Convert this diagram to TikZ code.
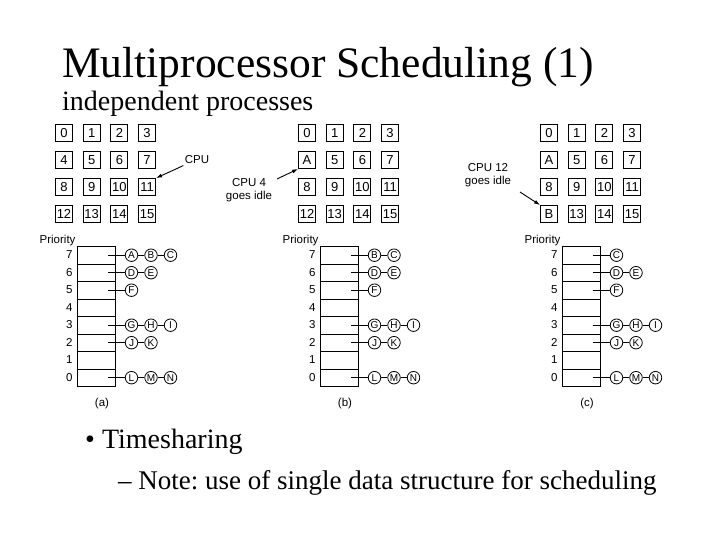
\documentclass[tikz,border=0pt]{standalone}
\usepackage{fontspec}
\setmainfont{Liberation Serif}
\newfontfamily\sff{Liberation Sans}
\usetikzlibrary{arrows.meta}
\frenchspacing
\newcommand\myprocs[3]{% panel, dx, top list
  \foreach \lv/\lst in {7/{#3}, 6/{D,E}, 5/{F}, 3/{G,H,I}, 2/{J,K}, 0/{L,M,N}}{
    \coordinate (#1-s\lv) at ([xshift=-8pt]#1-row\lv.east);
    \foreach \n [count=\j] in \lst{
      \node[proc] (#1-\lv-\j) at (112+#2+19.5*\j,0 |- #1-row\lv.center) {\n};
    }
    \draw[line width=0.9pt] (#1-s\lv) -- (#1-\lv-1);
    \foreach \n [count=\j] in \lst{
      \ifnum\j>1 \pgfmathtruncatemacro{\pj}{\j-1}\draw[line width=0.9pt] (#1-\lv-\pj) -- (#1-\lv-\j);\fi
    }
  }}
\begin{document}
\begin{tikzpicture}[x=1pt,y=-1pt,
  cpu/.style={draw,line width=0.9pt,minimum size=17pt,inner sep=0pt,font=\sff\fontsize{13}{13}\selectfont},
  proc/.style={draw,circle,line width=0.8pt,minimum size=12.5pt,inner sep=0pt,font=\sff\fontsize{10}{10}\selectfont},
  lbl/.style={font=\sff\fontsize{11.5}{12.5}\selectfont,align=center},
  arr/.style={-{Latex[length=6pt,width=4pt]},line width=0.9pt}]
\useasboundingbox (0,0) rectangle (720,540);
\node[anchor=base west,inner sep=0pt,font=\fontsize{43.5}{43.5}\selectfont] (title) at (62,78) {Multiprocessor Scheduling (1)};
\node[anchor=base west,inner sep=0pt,font=\fontsize{28}{28}\selectfont] (sub) at (62,111) {independent processes};
\node[anchor=base west,inner sep=0pt,font=\fontsize{28}{28}\selectfont] (b1) at (85,448) {• Timesharing};
\node[anchor=base west,inner sep=0pt,font=\fontsize{27}{27}\selectfont] (b2) at (118,489) {– Note: use of single data structure for scheduling};
\foreach \p/\dx/\ffour/\ftwelve in {a/0/4/12, b/243/A/12, c/485/A/B}{
  \foreach \i in {0,...,15}{
    \pgfmathtruncatemacro{\r}{int(\i/4)}
    \pgfmathtruncatemacro{\c}{mod(\i,4)}
    \def\t{\i}
    \ifnum\i=4 \edef\t{\ffour}\fi
    \ifnum\i=12 \edef\t{\ftwelve}\fi
    \node[cpu] (\p-cpu\i) at (64+\dx+27.7*\c,133+27*\r) {\t};
  }
  \node[lbl,anchor=south east] (\p-prio) at (79+\dx,249) {Priority};
  \foreach \k in {0,...,7}{
    \pgfmathsetmacro{\yy}{246+17.5*\k}
    \pgfmathtruncatemacro{\lv}{7-\k}
    \node[draw,line width=0.9pt,minimum width=38pt,minimum height=17.5pt,inner sep=0pt,anchor=north west] (\p-row\lv) at (77+\dx,\yy) {};
    \node[lbl,anchor=east] (\p-lv\lv) at (76+\dx,\yy+9) {\lv};
  }
  \node[lbl] (\p-cap) at (102+\dx,404) {(\p)};
}
\myprocs{a}{0}{A,B,C}
\myprocs{b}{243}{B,C}
\myprocs{c}{485}{C}
\node[lbl] (l1) at (197,160) {CPU};
\draw[arr] (l1.south west) ++(2,-2) -- (a-cpu11.north east);
\node[lbl] (l2) at (249,190) {CPU 4\\goes idle};
\draw[arr] (277,179) -- (b-cpu4.south west);
\node[lbl] (l3) at (488,175) {CPU 12\\goes idle};
\draw[arr] (520,192) -- (c-cpu12.north west);
\end{tikzpicture}
\end{document}
